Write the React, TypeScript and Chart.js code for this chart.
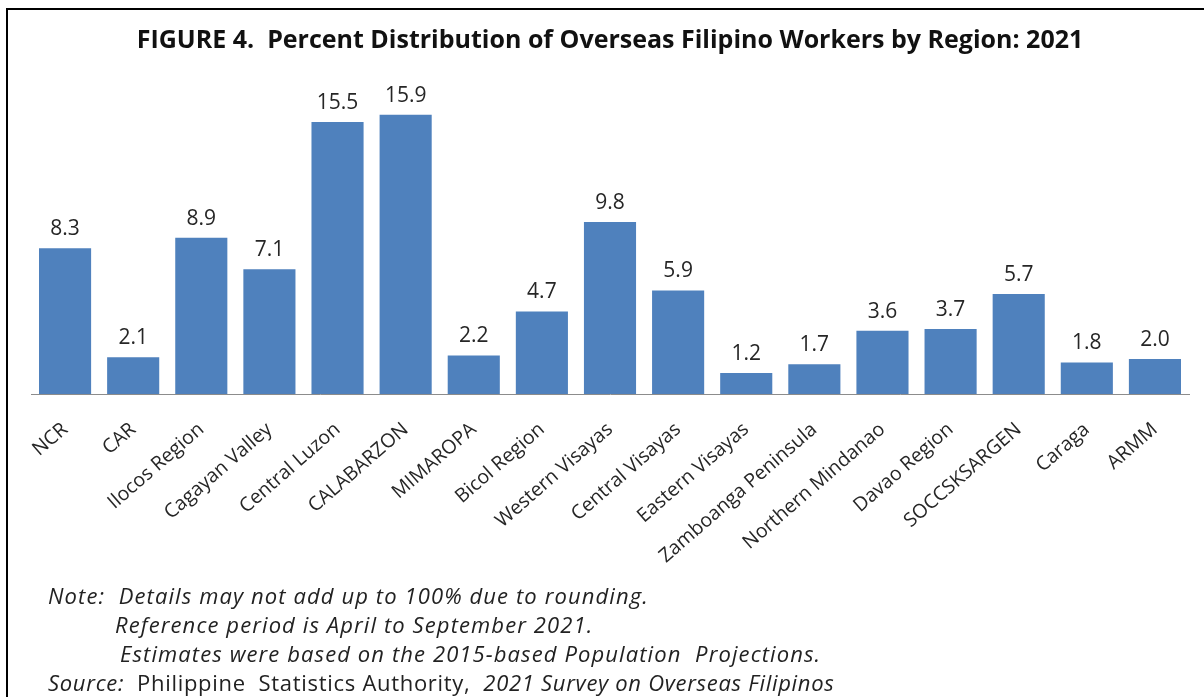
import React, { useEffect, useRef } from "react";
import { Chart, registerables } from "chart.js";

Chart.register(...registerables);

const TITLE = "FIGURE 4.  Percent Distribution of Overseas Filipino Workers by Region: 2021";

const regions: string[] = [
  "NCR",
  "CAR",
  "Ilocos Region",
  "Cagayan Valley",
  "Central Luzon",
  "CALABARZON",
  "MIMAROPA",
  "Bicol Region",
  "Western Visayas",
  "Central Visayas",
  "Eastern Visayas",
  "Zamboanga Peninsula",
  "Northern Mindanao",
  "Davao Region",
  "SOCCSKSARGEN",
  "Caraga",
  "ARMM",
];

const percents: number[] = [8.3, 2.1, 8.9, 7.1, 15.5, 15.9, 2.2, 4.7, 9.8, 5.9, 1.2, 1.7, 3.6, 3.7, 5.7, 1.8, 2.0];

const Y_MAX = 18;

const W = 1204;
const H = 697;
const AXIS_Y = 394;

const valueLabels = {
  id: "valueLabels",
  afterDatasetsDraw(chart: any) {
    const ctx = chart.ctx;
    const meta = chart.getDatasetMeta(0);
    ctx.save();
    ctx.font = "21px 'Open Sans'";
    ctx.fillStyle = "#262626";
    ctx.textAlign = "center";
    ctx.textBaseline = "alphabetic";
    meta.data.forEach((bar: any, i: number) => {
      ctx.fillText(percents[i].toFixed(1), bar.x, bar.y - 13);
    });
    ctx.restore();
  },
};

const noteStyle: React.CSSProperties = {
  position: "absolute",
  fontFamily: "'Open Sans', sans-serif",
  fontStyle: "italic",
  fontSize: "22px",
  lineHeight: "29px",
  letterSpacing: "1.1px",
  color: "#222",
  whiteSpace: "pre",
};

export default function App() {
  const canvasRef = useRef<HTMLCanvasElement | null>(null);

  useEffect(() => {
    if (!canvasRef.current) return;
    const chart = new Chart(canvasRef.current, {
      type: "bar",
      data: {
        labels: regions,
        datasets: [
          {
            data: percents,
            backgroundColor: "#4F81BD",
            borderWidth: 0,
            barPercentage: 0.765,
            categoryPercentage: 1,
          },
        ],
      },
      options: {
        responsive: false,
        animation: false,
        devicePixelRatio: 1,
        layout: { padding: { left: 31, right: 15, top: 0, bottom: 0 } },
        plugins: {
          legend: { display: false },
          tooltip: { enabled: false },
          title: {
            display: true,
            text: TITLE,
            color: "#111",
            font: { family: "'Open Sans'", size: 25, weight: "bold", lineHeight: 1.2 },
            padding: { top: 26, bottom: 22 },
          },
        },
        scales: {
          x: {
            grid: { display: false, drawTicks: false },
            border: { display: true, color: "#8c8c8c", width: 1 },
            ticks: {
              autoSkip: false,
              minRotation: 41,
              maxRotation: 41,
              padding: 24,
              color: "#262626",
              font: { family: "'Open Sans'", size: 19.5 },
            },
            afterFit: (scale: any) => {
              scale.height = H - AXIS_Y;
            },
          },
          y: {
            display: false,
            min: 0,
            max: Y_MAX,
          },
        },
      },
      plugins: [valueLabels],
    });
    return () => chart.destroy();
  }, []);

  return (
    <div style={{ position: "absolute", left: 0, top: 0, width: W, height: H, background: "#fff", overflow: "hidden" }}>
      <canvas ref={canvasRef} width={W} height={H} style={{ position: "absolute", left: 0, top: 0, width: W, height: H }} />
      <div style={{ position: "absolute", left: 6, top: 8, right: 0, height: 2, background: "#000" }} />
      <div style={{ position: "absolute", left: 6, top: 8, bottom: 0, width: 2, background: "#000" }} />
      <div style={{ ...noteStyle, left: 48, top: 581 }}>{"Note:  Details may not add up to 100% due to rounding."}</div>
      <div style={{ ...noteStyle, left: 115, top: 610 }}>{"Reference period is April to September 2021."}</div>
      <div style={{ ...noteStyle, left: 120, top: 639 }}>{"Estimates were based on the 2015-based Population  Projections."}</div>
      <div style={{ ...noteStyle, left: 48, top: 668, letterSpacing: "0.7px" }}>
        {"Source:  "}
        <span style={{ fontStyle: "normal" }}>{"Philippine  Statistics Authority,  "}</span>
        {"2021 Survey on Overseas Filipinos"}
      </div>
    </div>
  );
}
